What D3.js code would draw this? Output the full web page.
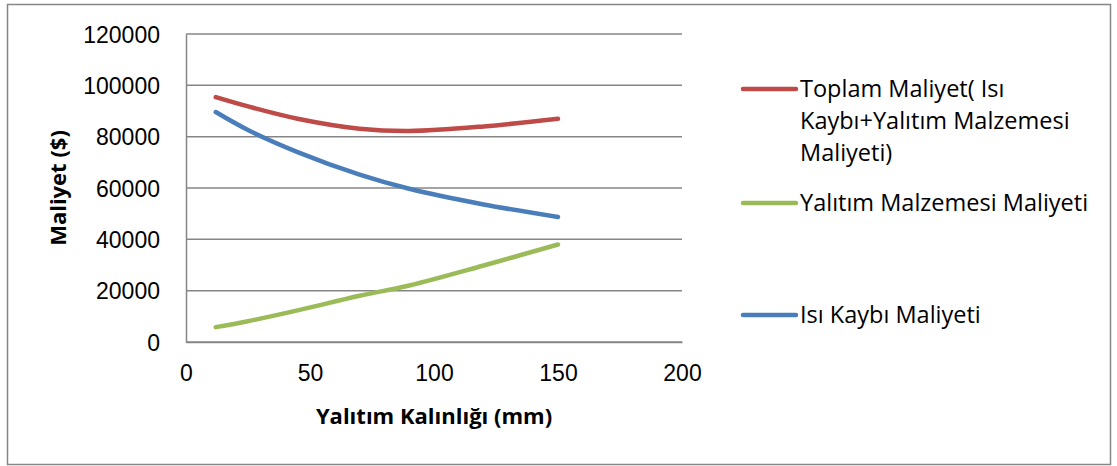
<!DOCTYPE html>
<html>
<head>
<meta charset="utf-8">
<script src="https://cdn.jsdelivr.net/npm/d3@7"></script>
<style>
  body { margin: 0; background: #fff; }
  svg { font-family: "Open Sans", "Noto Sans", sans-serif; }
</style>
</head>
<body>
<div id="chart"></div>
<script>
// insulation thickness (mm)
const thickness = [12, 25, 45, 70, 90, 120, 150];
// cost series ($)
const totalCost = [95400, 91800, 87000, 83100, 82200, 84000, 87000];
const materialCost = [5800, 8100, 12300, 18000, 22000, 29800, 38000];
const heatLossCost = [89600, 82600, 74000, 65200, 59700, 53600, 48700];

const xTicks = [0, 50, 100, 150, 200];
const yTicks = [0, 20000, 40000, 60000, 80000, 100000, 120000];

const seriesNames = [
    'Toplam Maliyet( Isı|Kaybı+Yalıtım Malzemesi|Maliyeti)',
    'Yalıtım Malzemesi Maliyeti',
    'Isı Kaybı Maliyeti'
];
const seriesColors = ['#be4b48', '#9bbb59', '#4a7ebb'];

window.onload = function () {
    const width = 1117, height = 466;
    const plot = { left: 186, right: 682, top: 34, bottom: 342 };

    const svg = d3.select('#chart').append('svg')
        .attr('width', width)
        .attr('height', height);

    // outer chart border
    svg.append('rect')
        .attr('x', 7.5).attr('y', 4.5)
        .attr('width', 1103).attr('height', 460)
        .attr('fill', '#fff')
        .attr('stroke', '#868686')
        .attr('stroke-width', 1.5);

    const xScale = d3.scaleLinear().domain([0, 200]).range([plot.left, plot.right]);
    const yScale = d3.scaleLinear().domain([0, 120000]).range([plot.bottom, plot.top]);

    // horizontal gridlines
    svg.append('g')
        .selectAll('line')
        .data(yTicks)
        .enter()
        .append('line')
        .attr('x1', plot.left).attr('x2', plot.right)
        .attr('y1', d => yScale(d)).attr('y2', d => yScale(d))
        .attr('stroke', '#868686')
        .attr('stroke-width', 1.5);

    // y axis
    const yAxis = svg.append('g')
        .attr('transform', `translate(${plot.left},0)`)
        .call(d3.axisLeft(yScale).tickValues(yTicks).tickSize(0).tickPadding(26).tickFormat(d3.format('d')));
    yAxis.select('.domain').attr('stroke', '#868686').attr('stroke-width', 1.5);
    yAxis.selectAll('text')
        .style('font-size', '23px')
        .style('fill', '#000')
        .attr('dy', '0.35em');

    // x axis
    const xAxis = svg.append('g')
        .attr('transform', `translate(0,${plot.bottom})`)
        .call(d3.axisBottom(xScale).tickValues(xTicks).tickSize(0).tickPadding(23));
    xAxis.select('.domain').attr('stroke', '#868686').attr('stroke-width', 1.5);
    xAxis.selectAll('text')
        .style('font-size', '23px')
        .style('fill', '#000');

    // lines
    const allSeries = [totalCost, materialCost, heatLossCost];
    const line = d3.line()
        .x((d, i) => xScale(thickness[i]))
        .y(d => yScale(d))
        .curve(d3.curveCatmullRom.alpha(0.5));

    // draw in order: heat loss, material, total on top
    [2, 1, 0].forEach(k => {
        svg.append('path')
            .datum(allSeries[k])
            .attr('d', line)
            .attr('fill', 'none')
            .attr('stroke', seriesColors[k])
            .attr('stroke-width', 4.5)
            .attr('stroke-linecap', 'round')
            .attr('stroke-linejoin', 'round');
    });

    // axis titles
    svg.append('text')
        .attr('x', (plot.left + plot.right) / 2)
        .attr('y', 424)
        .attr('text-anchor', 'middle')
        .style('font-size', '22px')
        .style('font-weight', 'bold')
        .text('Yalıtım Kalınlığı (mm)');

    svg.append('text')
        .attr('transform', `translate(66,${(plot.top + plot.bottom) / 2}) rotate(-90)`)
        .attr('text-anchor', 'middle')
        .style('font-size', '22px')
        .style('font-weight', 'bold')
        .text('Maliyet ($)');

    // legend
    const legendY = [89, 203, 315];
    const legend = svg.append('g');
    seriesNames.forEach((name, k) => {
        legend.append('line')
            .attr('x1', 743).attr('x2', 796)
            .attr('y1', legendY[k]).attr('y2', legendY[k])
            .attr('stroke', seriesColors[k])
            .attr('stroke-width', 4.5)
            .attr('stroke-linecap', 'round');
        const lines = name.split('|');
        lines.forEach((t, j) => {
            legend.append('text')
                .attr('x', 800)
                .attr('y', legendY[k] + 8 + j * 32)
                .style('font-size', '23.5px')
                .style('fill', '#000')
                .text(t);
        });
    });
};
</script>
</body>
</html>
